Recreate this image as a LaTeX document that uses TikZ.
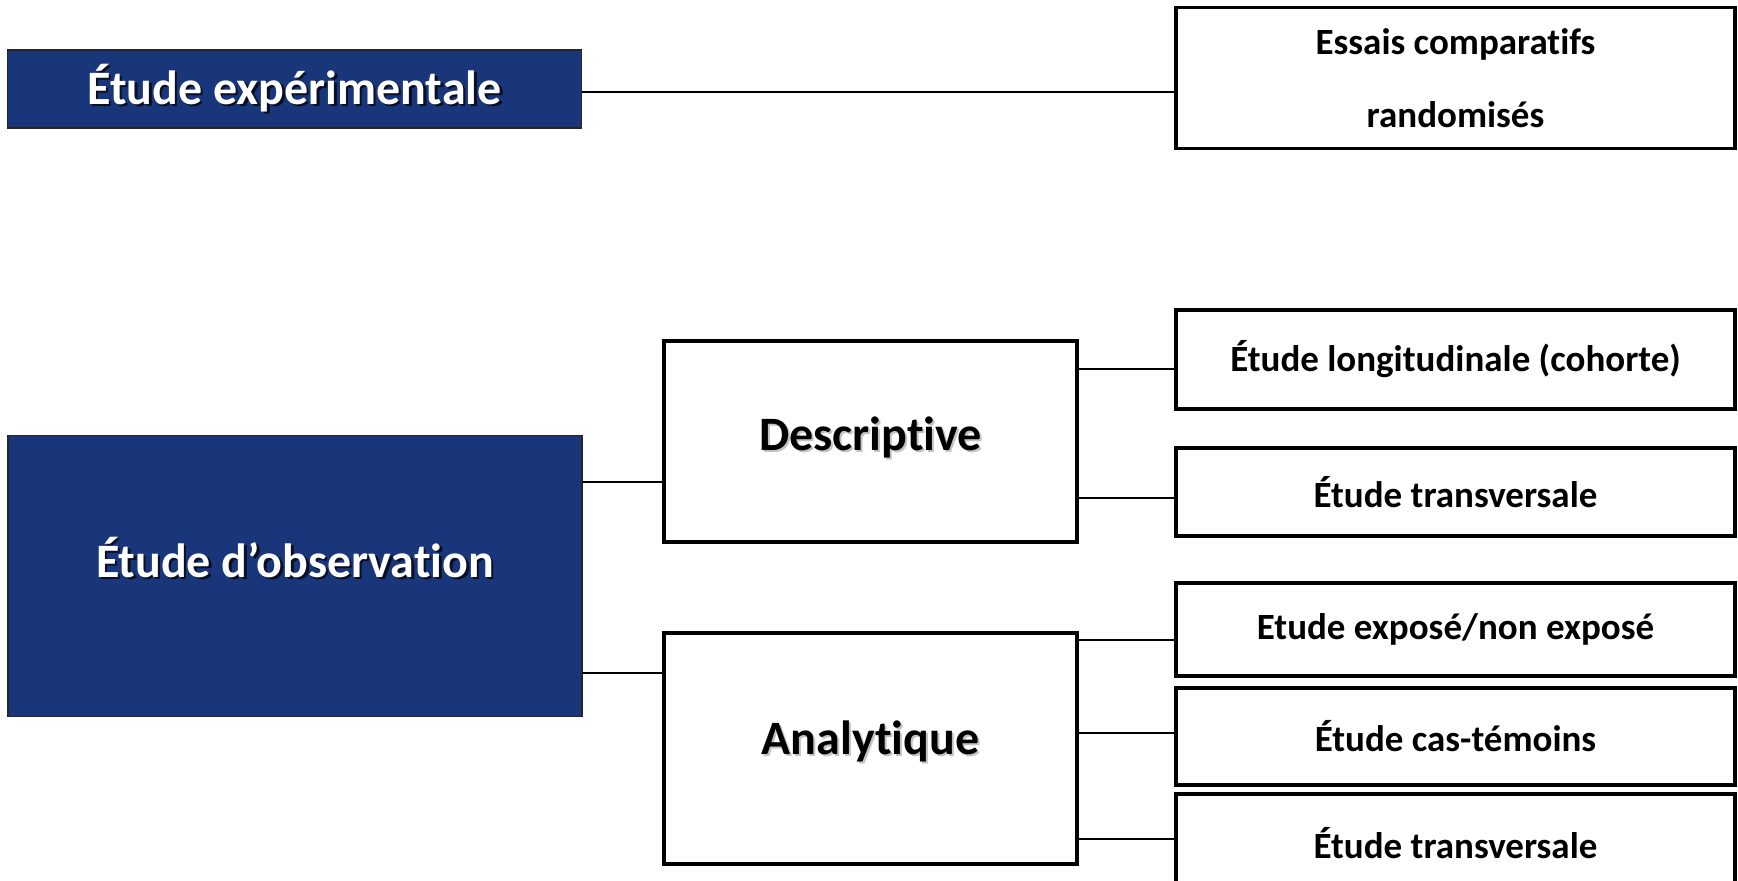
\documentclass[tikz,border=0pt]{standalone}
\usepackage{fontspec}
\setmainfont{Carlito}[Ligatures={NoCommon}]
\usepackage{xcolor}
\definecolor{navy}{RGB}{26,54,122}
\definecolor{shdark}{RGB}{10,15,35}
\definecolor{shlight}{RGB}{195,195,195}
\newcommand\shtext[3]{\makebox[0pt][l]{\hspace{#1}\raisebox{-#1}{\textcolor{#2}{#3}}}#3}
\tikzset{
  bluebox/.style={draw=black!85, line width=1.5pt, fill=navy, text=white, inner sep=0pt, outer sep=0pt,
    font=\bfseries\fontsize{48}{56}\selectfont},
  midbox/.style={draw=black, line width=3.5pt, fill=white, inner sep=0pt, outer sep=0pt,
    font=\bfseries\fontsize{48}{56}\selectfont},
  leafbox/.style={draw=black, line width=3.5pt, fill=white, inner sep=0pt, outer sep=0pt,
    font=\bfseries\fontsize{37}{44}\selectfont},
  plaintext/.style={inner sep=0pt, outer sep=0pt},
  conn/.style={draw=black, line width=1.6pt}
}
\begin{document}
\begin{tikzpicture}[x=1pt,y=-1pt]
\useasboundingbox (0,0) rectangle (1738,881);
% top row
\node[bluebox, minimum width=574pt, minimum height=78pt] (exp) at (294.5,89) {\shtext{2.5pt}{shdark}{Étude expérimentale}};
\node[leafbox, minimum width=559pt, minimum height=141pt, align=center, font=\bfseries\fontsize{37}{73}\selectfont] (ess) at (1455.5,78) {Essais comparatifs\\randomisés};
\draw[conn] (exp.east |- 0,92) -- (ess.west |- 0,92);
% observation
\node[bluebox, minimum width=574pt, minimum height=281pt] (obs) at (295,576) {};
\node[plaintext, text=white, font=\bfseries\fontsize{48}{56}\selectfont] (obst) at (295,558.5) {\shtext{2.5pt}{shdark}{Étude d’observation}};
\node[midbox, minimum width=413pt, minimum height=201pt] (desc) at (870.5,441.5) {};
\node[plaintext, font=\bfseries\fontsize{48}{56}\selectfont] (desct) at (870.5,438) {\shtext{2pt}{shlight}{Descriptive}};
\node[midbox, minimum width=413pt, minimum height=231pt] (anal) at (870.5,748.5) {};
\node[plaintext, font=\bfseries\fontsize{48}{56}\selectfont] (analt) at (870.5,742) {\shtext{2pt}{shlight}{Analytique}};
\draw[conn] (obs.east |- 0,482) -- (desc.west |- 0,482);
\draw[conn] (obs.east |- 0,673) -- (anal.west |- 0,673);
% leaves
\node[leafbox, minimum width=559pt, minimum height=99pt] (lon) at (1455.5,359.5) {Étude longitudinale (cohorte)};
\node[leafbox, minimum width=559pt, minimum height=88pt] (tr1) at (1455.5,492) {Étude transversale};
\node[leafbox, minimum width=559pt, minimum height=93pt] (expo) at (1455.5,629.5) {Etude exposé/non exposé};
\node[leafbox, minimum width=559pt, minimum height=97pt] (cas) at (1455.5,736.5) {Étude cas-témoins};
\node[leafbox, minimum width=559pt, minimum height=120pt, anchor=north] (tr2) at (1455.5,794) {};
\node[plaintext, font=\bfseries\fontsize{37}{44}\selectfont] (tr2t) at (1455.5,843) {Étude transversale};
\draw[conn] (desc.east |- 0,369) -- (lon.west |- 0,369);
\draw[conn] (desc.east |- 0,498) -- (tr1.west |- 0,498);
\draw[conn] (anal.east |- 0,640) -- (expo.west |- 0,640);
\draw[conn] (anal.east |- 0,733) -- (cas.west |- 0,733);
\draw[conn] (anal.east |- 0,839) -- (tr2.west |- 0,839);
\end{tikzpicture}
\end{document}
